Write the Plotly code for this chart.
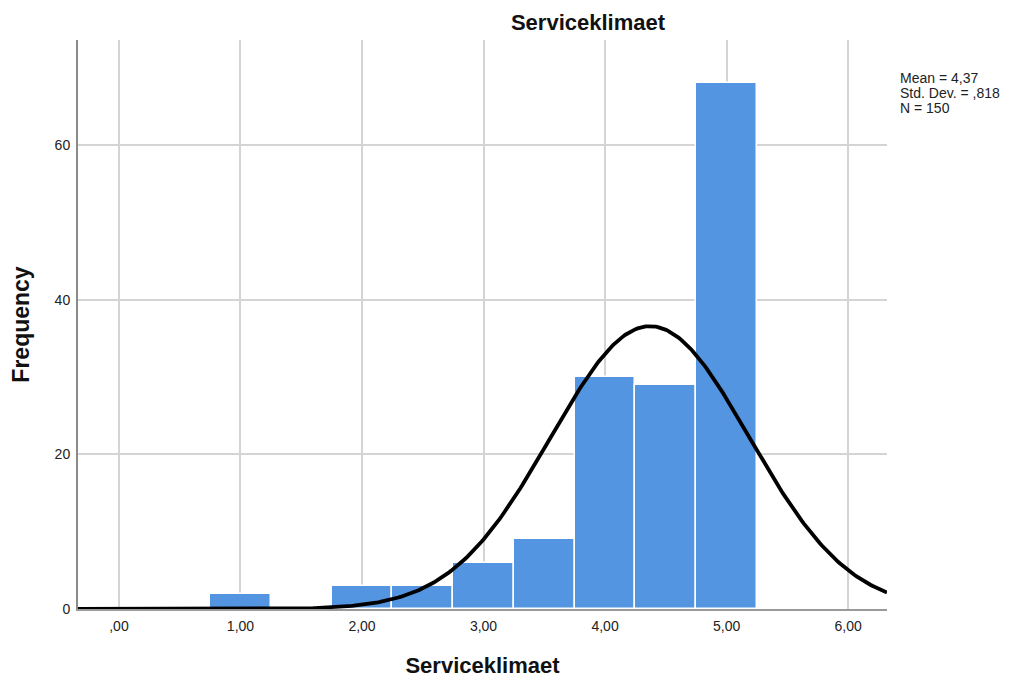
import numpy as np
import plotly.graph_objects as go

# Histogram data (bin centers, frequencies)
bin_centers = [1.0, 2.0, 2.5, 3.0, 3.5, 4.0, 4.5, 5.0]
frequencies = [2, 3, 3, 6, 9, 30, 29, 68]
bin_width = 0.5

# Summary statistics shown on the chart
mean_val = 4.37
std_val = 0.818
n_val = 150
stat_lines = ["Mean = 4,37", "Std. Dev. = ,818", "N = 150"]

x_tick_vals = [0, 1, 2, 3, 4, 5, 6]
x_tick_text = [",00", "1,00", "2,00", "3,00", "4,00", "5,00", "6,00"]
y_tick_vals = [0, 20, 40, 60]

x_range = [-0.337, 6.32]
y_range = [0, 73.6]

# Fitted normal curve from the displayed mean / sd / N
xc = np.linspace(x_range[0], x_range[1], 400)
yc = n_val * bin_width / (std_val * np.sqrt(2 * np.pi)) * np.exp(-0.5 * ((xc - mean_val) / std_val) ** 2)

OFF = 8  # page body margin
W, H = 1010, 677
ML, MR, MT, MB = 78 - OFF, 131, 40 - OFF, 76
PW = W - ML - MR
PH = H - MT - MB

fig = go.Figure()
fig.add_trace(go.Bar(
    x=bin_centers, y=frequencies, width=bin_width,
    marker=dict(color="#5495E1", line=dict(color="white", width=1.5)),
    showlegend=False,
))
fig.add_trace(go.Scatter(
    x=xc, y=yc, mode="lines",
    line=dict(color="black", width=3.8),
    showlegend=False, cliponaxis=False,
))

fig.update_layout(
    width=W, height=H,
    margin=dict(l=ML, r=MR, t=MT, b=MB, autoexpand=False),
    plot_bgcolor="white", paper_bgcolor="white",
    font=dict(family="Liberation Sans, Arial, sans-serif", color="#222222", size=14),
    bargap=0,
    title=dict(text="<b>Serviceklimaet</b>", x=(588 - OFF) / W, xanchor="center",
               y=1 - (22 - OFF) / H, yanchor="middle", font=dict(size=22, color="#111111")),
    xaxis=dict(
        range=x_range, tickvals=x_tick_vals, ticktext=x_tick_text,
        showgrid=True, gridcolor="#d4d4d4", gridwidth=1.5,
        zeroline=False, showline=True, linecolor="#9a9a9a", linewidth=2,
        ticks="", ticklabelstandoff=3, automargin=False,
        title=dict(text="<b>Serviceklimaet</b>", font=dict(size=22, color="#111111"), standoff=25),
    ),
    yaxis=dict(
        range=y_range, tickvals=y_tick_vals,
        showgrid=True, gridcolor="#d4d4d4", gridwidth=1.5,
        zeroline=False, showline=True, linecolor="#8a8a8a", linewidth=2,
        ticks="", ticklabelstandoff=3, automargin=False,
        title=dict(text="<b>Frequency</b>", font=dict(size=23, color="#111111"), standoff=22),
    ),
)

for i, line in enumerate(stat_lines):
    ypix = 78 + 15 * i  # center of each text line (page px)
    fig.add_annotation(
        text=line,
        xref="paper", yref="paper",
        x=(898 - 78) / PW, y=1 - (ypix - 40) / PH,
        xanchor="left", yanchor="middle", align="left", showarrow=False,
        font=dict(size=14, color="#222222"),
    )

fig.write_html("out.html")
